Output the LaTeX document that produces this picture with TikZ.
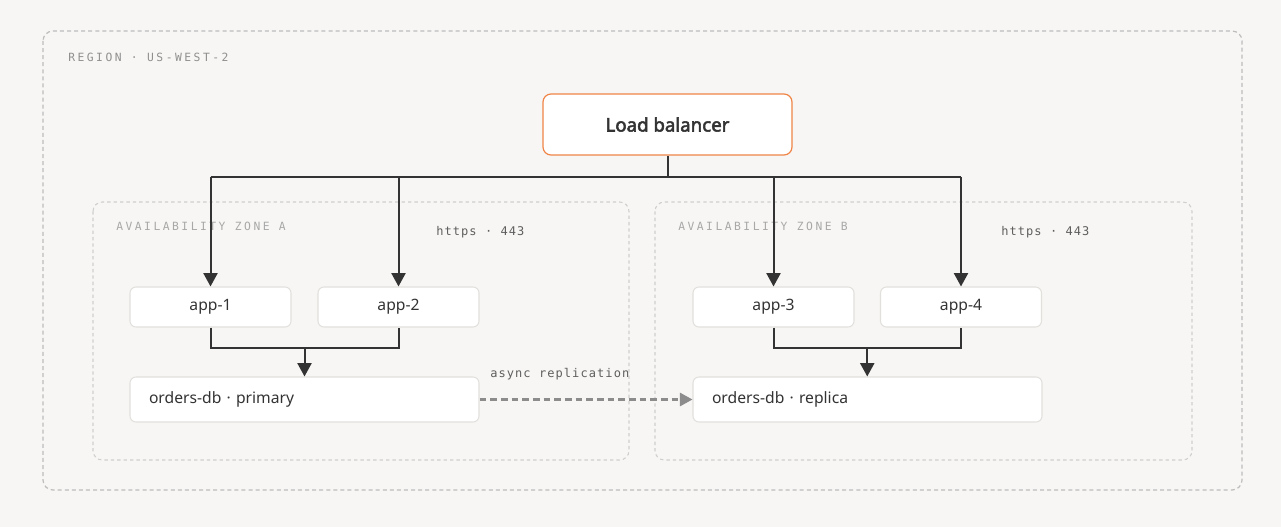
\documentclass[tikz,border=0pt]{standalone}
\usepackage{fontspec}
\setmainfont{Noto Sans}[AutoFakeBold=2.8]
\newfontfamily\monowide[LetterSpace=22]{DejaVu Sans Mono}
\newfontfamily\mononarrow[LetterSpace=9]{DejaVu Sans Mono}
\usetikzlibrary{arrows.meta,calc}
\definecolor{bg}{HTML}{F7F6F4}
\definecolor{regionline}{HTML}{BDBDBD}
\definecolor{zoneline}{HTML}{CFCFCF}
\definecolor{nodeline}{HTML}{E2E0DC}
\definecolor{lborange}{HTML}{F08548}
\definecolor{ink}{HTML}{333333}
\definecolor{wire}{HTML}{333333}
\definecolor{replgray}{HTML}{8C8C8C}
\definecolor{lbl}{HTML}{8F8F8F}
\definecolor{zonelbl}{HTML}{A8A8A8}
\definecolor{proto}{HTML}{5E5E5E}
\tikzset{
  regionbox/.style={draw=regionline, line width=0.9pt, dash pattern=on 3pt off 2.3pt, rounded corners=7.5pt},
  zonebox/.style={draw=zoneline, line width=0.8pt, dash pattern=on 2.5pt off 2.3pt, rounded corners=7pt},
  appbox/.style={draw=nodeline, fill=white, line width=0.8pt, rounded corners=4.5pt, minimum width=120.75pt, minimum height=30pt, inner sep=0pt, font=\fontsize{11.75pt}{13pt}\selectfont, text=ink},
  dbbox/.style={draw=nodeline, fill=white, line width=0.8pt, rounded corners=4.5pt, minimum height=33.75pt, inner xsep=14.25pt, inner ysep=0pt, text width=233.25pt, align=left, font=\fontsize{11.75pt}{13pt}\selectfont, text=ink},
  lbbox/.style={draw=lborange, fill=white, line width=0.9pt, rounded corners=6pt, minimum width=186.75pt, minimum height=45.75pt, inner sep=0pt, font=\fontsize{14pt}{16pt}\selectfont\bfseries, text=ink},
  wireline/.style={draw=wire, line width=1.5pt},
  arrowline/.style={wireline, -{Triangle[width=10.5pt,length=10pt]}},
  repl/.style={draw=replgray, line width=1.6pt, dash pattern=on 5pt off 3pt, -{Triangle[width=10pt,length=9.5pt]}},
  regionlabel/.style={font=\monowide\fontsize{8.5pt}{10pt}\selectfont, text=lbl, inner sep=0pt, anchor=west},
  zonelabel/.style={font=\monowide\fontsize{8.5pt}{10pt}\selectfont, text=zonelbl, inner sep=0pt, anchor=west},
  protolabel/.style={font=\mononarrow\fontsize{9pt}{11pt}\selectfont, text=proto, inner sep=0pt, anchor=west},
}
\begin{document}
\begin{tikzpicture}[x=0.75pt,y=-0.75pt]
\fill[bg] (0,0) rectangle (1281,527);
\useasboundingbox (0,0) rectangle (1281,527);
% region and zones
\draw[regionbox] (43,31) rectangle (1242,490);
\node[regionlabel] (rlab) at (68,57) {REGION · US-WEST-2};
\draw[zonebox] (93,202) rectangle (629,460);
\draw[zonebox] (655,202) rectangle (1192,460);
\node[zonelabel] (zlabA) at (116,226) {AVAILABILITY ZONE A};
\node[zonelabel] (zlabB) at (678,226) {AVAILABILITY ZONE B};
\node[protolabel] (httpsA) at (436,232) {https · 443};
\node[protolabel] (httpsB) at (1001,232) {https · 443};
% nodes
\node[lbbox] (lb) at (667.5,124.5) {Load balancer};
\node[appbox] (app1) at (210.5,307) {app-1};
\node[appbox] (app2) at (398.5,307) {app-2};
\node[appbox] (app3) at (773.5,307) {app-3};
\node[appbox] (app4) at (961,307) {app-4};
\node[dbbox] (dbA) at (304.5,399.5) {orders-db · primary};
\node[dbbox] (dbB) at (867.5,399.5) {orders-db · replica};
% coordinates
\coordinate (bus) at (0,177);
\coordinate (join) at (0,348);
\coordinate (midA) at ($(app1.south)!0.5!(app2.south)$);
\coordinate (midB) at ($(app3.south)!0.5!(app4.south)$);
% load balancer fan-out
\draw[wireline] (lb.south) -- (lb.south |- bus);
\draw[wireline] (app1.north |- bus) -- (app4.north |- bus);
\draw[arrowline] (app1.north |- bus) -- (app1.north);
\draw[arrowline] (app2.north |- bus) -- (app2.north);
\draw[arrowline] (app3.north |- bus) -- (app3.north);
\draw[arrowline] (app4.north |- bus) -- (app4.north);
% apps to db
\draw[wireline] (app1.south) -- (app1.south |- join) -- (app2.south |- join) -- (app2.south);
\draw[wireline] (app3.south) -- (app3.south |- join) -- (app4.south |- join) -- (app4.south);
\draw[arrowline] (midA |- join) -- (midA |- dbA.north);
\draw[arrowline] (midB |- join) -- (midB |- dbB.north);
% replication
\draw[repl] (dbA.east) -- (dbB.west);
\node[protolabel] (repllab) at (490,374) {async replication};
\end{tikzpicture}
\end{document}
